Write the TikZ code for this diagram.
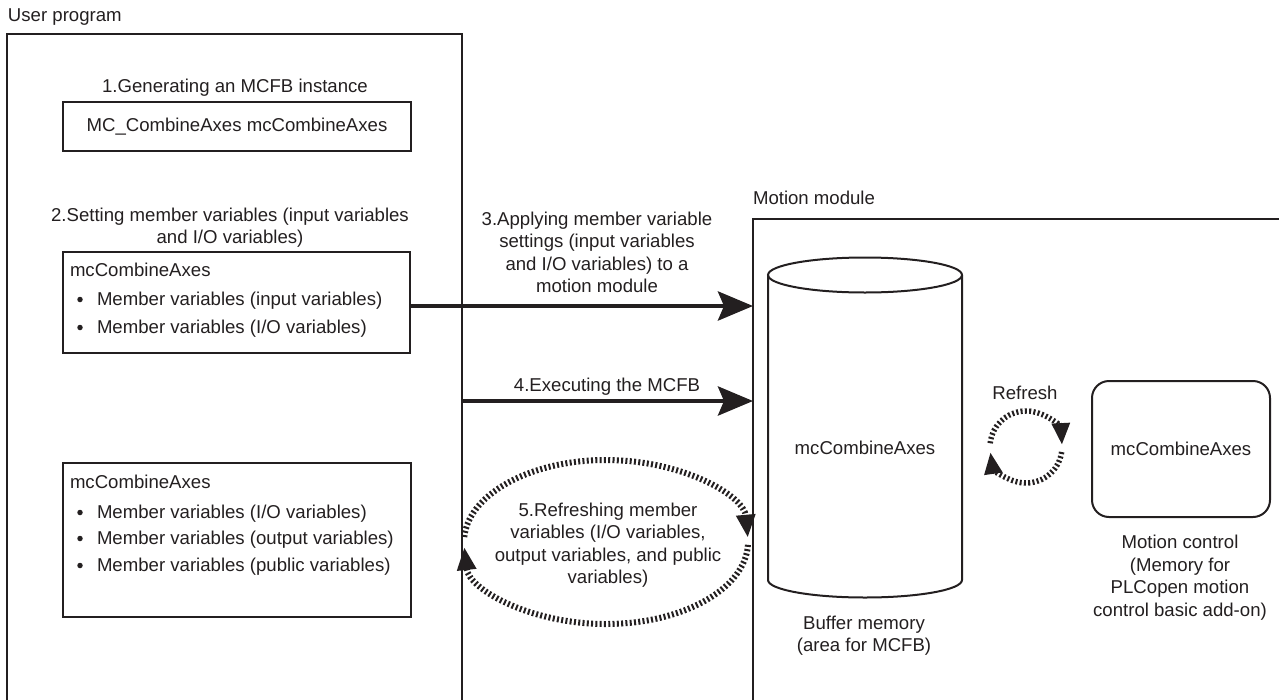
\documentclass[tikz,border=0pt]{standalone}
\usepackage{fontspec}
\setmainfont{Liberation Sans}
\usetikzlibrary{arrows.meta}
\definecolor{ink}{HTML}{231F20}
\begin{document}
\begin{tikzpicture}[x=1pt,y=-1pt,
  every node/.style={inner sep=0pt, outer sep=0pt, text=ink,
    font=\fontsize{18.6}{22.5}\selectfont},
  frame/.style={draw=ink, line width=2.5pt, rectangle, anchor=north west},
  box/.style={draw=ink, line width=2pt, rectangle, anchor=north west},
  dot/.style={circle, fill=ink, minimum size=5.5pt},
  cyl/.style={draw=ink, line width=2pt},
  lbl/.style={align=center},
  bigarrow/.style={draw=ink, line width=4.5pt, -{Stealth[length=35pt,width=29pt,inset=6pt]}},
  refreshline/.style={draw=ink, line width=6pt, dash pattern=on 2pt off 2.3pt,
    -{Triangle[length=23pt,width=18pt]}},
  smallrefresh/.style={draw=ink, line width=5.5pt, dash pattern=on 2pt off 2.3pt,
    -{Triangle[length=22pt,width=17pt]}}
]
\useasboundingbox (0,0) rectangle (1279,699);
\clip (0,0) rectangle (1279,699);

% ---- User program side ----
\node[anchor=base west] (lup) at (8,21) {User program};
\node[frame, minimum width=455pt, minimum height=700pt] (up) at (7,34) {};

\node[anchor=base] (t1) at (235,92) {1.Generating an MCFB instance};
\node[box, minimum width=348pt, minimum height=49pt] (b1) at (63,102) {MC\_CombineAxes mcCombineAxes};

\node[lbl] (t2) at (230,227.5) {2.Setting member variables (input variables\\and I/O variables)};
\node[box, minimum width=347pt, minimum height=101pt] (b2) at (63,252) {};
\node[anchor=base west] (b2h) at (70,276.5) {mcCombineAxes};
\node[dot] (b2d1) at (80,299.5) {};
\node[anchor=base west] (b2i1) at (97,305.5) {Member variables (input variables)};
\node[dot] (b2d2) at (80,327.5) {};
\node[anchor=base west] (b2i2) at (97,333.5) {Member variables (I/O variables)};

\node[box, minimum width=348pt, minimum height=154pt] (b3) at (63,463) {};
\node[anchor=base west] (b3h) at (70,488.5) {mcCombineAxes};
\node[dot] (b3d1) at (80,512.5) {};
\node[anchor=base west] (b3i1) at (97,518.5) {Member variables (I/O variables)};
\node[dot] (b3d2) at (80,538.5) {};
\node[anchor=base west] (b3i2) at (97,544.5) {Member variables (output variables)};
\node[dot] (b3d3) at (80,565.5) {};
\node[anchor=base west] (b3i3) at (97,571.5) {Member variables (public variables)};

% ---- Motion module side ----
\node[anchor=base west] (lmm) at (753,204) {Motion module};
\node[frame, minimum width=560pt, minimum height=500pt] (mm) at (753,219) {};

% cylinder (buffer memory)
\draw[cyl] (865,275) ellipse [x radius=97, y radius=17.5];
\draw[cyl] (768,275) -- (768,580) arc[start angle=180, end angle=0, x radius=97, y radius=17.5] -- (962,275);
\node (buf) at (865,448) {mcCombineAxes};
\node[lbl] (bufl) at (864,635.5) {Buffer memory\\(area for MCFB)};

% motion control memory
\node[box, rounded corners=17pt, minimum width=178pt, minimum height=136pt] (mc) at (1092,381) {};
\node (mct) at (mc.center) {mcCombineAxes};
\node[lbl] (mcl) at (1180,577.5) {Motion control\\(Memory for\\PLCopen motion\\control basic add-on)};

% ---- arrows ----
\coordinate (a3s) at ([yshift=-3.5pt]b2.east);
\draw[bigarrow] (a3s) -- (a3s -| mm.west);
\node[lbl] (t3) at (597,252.5) {3.Applying member variable\\settings (input variables\\and I/O variables) to a\\motion module};

\coordinate (a4s) at (462,401);
\draw[bigarrow] (a4s) -- (a4s -| mm.west);
\node[anchor=base] (t4) at (607,391.5) {4.Executing the MCFB};

% refresh between user program and buffer
\coordinate (ec) at (606,542);
\draw[refreshline] (ec) ++(183.5:142 and 82) arc[start angle=183.5, end angle=357, x radius=142, y radius=82];
\draw[refreshline] (ec) ++(2:142 and 82) arc[start angle=2, end angle=176.5, x radius=142, y radius=82];
\node[lbl] (t5) at (608,545) {5.Refreshing member\\variables (I/O variables,\\output variables, and public\\variables)};

% refresh between buffer and motion control
\node[anchor=base] (rl) at (1025,399.5) {Refresh};
\coordinate (rc) at (1026,447);
\draw[smallrefresh] (rc) ++(186:36) arc[start angle=186, end angle=357, radius=36];
\draw[smallrefresh] (rc) ++(8:36) arc[start angle=8, end angle=172, radius=36];
\end{tikzpicture}
\end{document}
